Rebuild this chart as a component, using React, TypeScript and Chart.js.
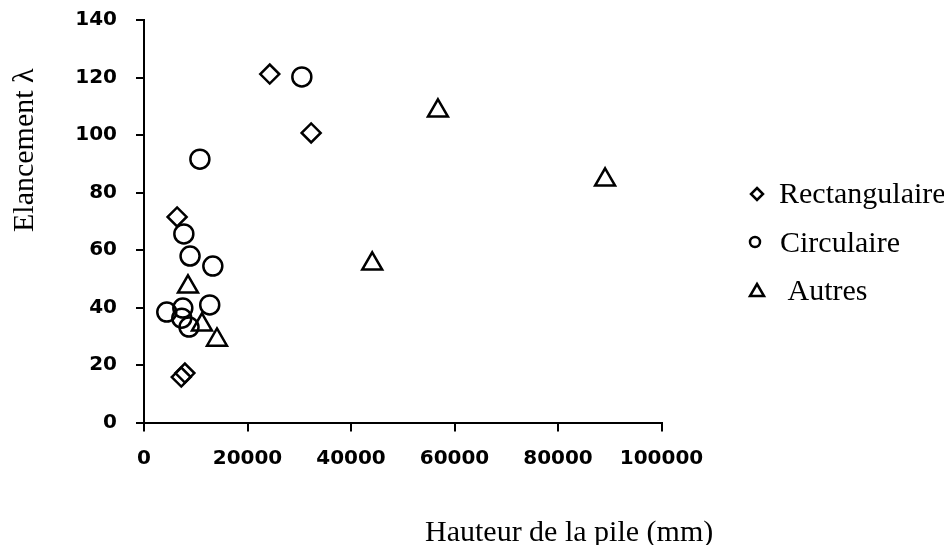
import React, { useEffect, useRef } from 'react';
import { Chart, registerables } from 'chart.js';

Chart.register(...registerables);

// Pile slenderness versus pile height, grouped by cross-section shape
const seriesNames = ['Rectangulaire', 'Circulaire', 'Autres'];

const rectangulaire = [
  { x: 24300, y: 121.2 },
  { x: 32300, y: 100.7 },
  { x: 6400, y: 71.5 },
  { x: 7200, y: 15.8 },
  { x: 7900, y: 17.2 },
];

const circulaire = [
  { x: 30500, y: 120.2 },
  { x: 10800, y: 91.6 },
  { x: 7700, y: 65.6 },
  { x: 8900, y: 57.9 },
  { x: 13300, y: 54.4 },
  { x: 4400, y: 38.4 },
  { x: 7500, y: 39.8 },
  { x: 12700, y: 40.9 },
  { x: 7300, y: 36.3 },
  { x: 8700, y: 33.2 },
];

const autres = [
  { x: 56800, y: 108.4 },
  { x: 89100, y: 84.4 },
  { x: 44100, y: 55.2 },
  { x: 8500, y: 47.2 },
  { x: 11200, y: 34.0 },
  { x: 14100, y: 28.7 },
];

const xTicks = [0, 20000, 40000, 60000, 80000, 100000];
const yTicks = [0, 20, 40, 60, 80, 100, 120, 140];

const xTitle = 'Hauteur de la pile (mm)';
const yTitle = 'Elancement \u03bb';

const tickFont = { family: '"DejaVu Sans", sans-serif', size: 20, weight: 'bold' as const };
const serif = '30px "Liberation Serif", "Times New Roman", serif';

// Axis titles and the legend drawn beside the plot
const annotations = {
  id: 'annotations',
  afterDraw(chart: Chart) {
    const ctx = chart.ctx;
    ctx.save();
    ctx.fillStyle = '#000';
    ctx.strokeStyle = '#000';
    ctx.font = serif;
    ctx.textAlign = 'left';
    ctx.textBaseline = 'alphabetic';

    // x title
    ctx.fillText(xTitle, 425, 541);

    // y title, rotated
    ctx.save();
    ctx.translate(33, 232);
    ctx.rotate(-Math.PI / 2);
    ctx.fillText(yTitle, 0, 0);
    ctx.restore();

    // legend
    ctx.lineWidth = 2.5;
    // diamond
    ctx.beginPath();
    ctx.moveTo(757, 188);
    ctx.lineTo(763, 194);
    ctx.lineTo(757, 200);
    ctx.lineTo(751, 194);
    ctx.closePath();
    ctx.stroke();
    ctx.fillText(seriesNames[0], 779, 203);
    // circle
    ctx.beginPath();
    ctx.arc(755, 242, 5, 0, Math.PI * 2);
    ctx.stroke();
    ctx.fillText(seriesNames[1], 780, 252);
    // triangle
    ctx.beginPath();
    ctx.moveTo(757, 284);
    ctx.lineTo(764, 296);
    ctx.lineTo(750, 296);
    ctx.closePath();
    ctx.stroke();
    ctx.fillText(' ' + seriesNames[2], 780, 300);

    ctx.restore();
  },
};

export default function App() {
  const canvasRef = useRef<HTMLCanvasElement | null>(null);

  useEffect(() => {
    const canvas = canvasRef.current;
    if (!canvas) return;
    const common = {
      showLine: false,
      borderColor: '#000',
      backgroundColor: 'rgba(0,0,0,0)',
      borderWidth: 2.5,
      pointBorderWidth: 2.5,
    };
    const chart = new Chart(canvas, {
      type: 'scatter',
      data: {
        datasets: [
          { ...common, label: seriesNames[0], data: rectangulaire, pointStyle: 'rectRot', pointRadius: 9.5 },
          { ...common, label: seriesNames[1], data: circulaire, pointStyle: 'circle', pointRadius: 9.5 },
          { ...common, label: seriesNames[2], data: autres, pointStyle: 'triangle', pointRadius: 11.5 },
        ],
      },
      options: {
        responsive: false,
        animation: false,
        devicePixelRatio: 1,
        layout: { autoPadding: false, padding: { left: 0, top: 20, right: 282.5, bottom: 0 } },
        plugins: {
          legend: { display: false },
          tooltip: { enabled: false },
        },
        scales: {
          x: {
            type: 'linear',
            min: 0,
            max: 100000,
            afterBuildTicks: (s: any) => {
              s.ticks = xTicks.map((v) => ({ value: v }));
            },
            afterFit: (s: any) => {
              s.height = 122.5;
              s.paddingLeft = 0;
              s.paddingRight = 0;
            },
            ticks: {
              font: tickFont,
              color: '#000',
              padding: 15,
              maxRotation: 0,
              autoSkip: false,
              callback: (v: any) => String(v),
            },
            grid: { drawOnChartArea: false, color: '#000', lineWidth: 2, tickLength: 9 },
            border: { color: '#000', width: 2 },
          },
          y: {
            type: 'linear',
            min: 0,
            max: 140,
            afterBuildTicks: (s: any) => {
              s.ticks = yTicks.map((v) => ({ value: v }));
            },
            afterFit: (s: any) => {
              s.width = 144;
              s.paddingTop = 0;
              s.paddingBottom = 0;
            },
            ticks: {
              font: tickFont,
              color: '#000',
              padding: 19,
              autoSkip: false,
              callback: (v: any) => String(v),
            },
            grid: { drawOnChartArea: false, color: '#000', lineWidth: 2, tickLength: 8 },
            border: { color: '#000', width: 2 },
          },
        },
      },
      plugins: [annotations],
    });
    return () => chart.destroy();
  }, []);

  return (
    <div style={{ position: 'absolute', left: 0, top: 0, width: 944, height: 545, background: '#fff' }}>
      <canvas ref={canvasRef} width={944} height={545} />
    </div>
  );
}
